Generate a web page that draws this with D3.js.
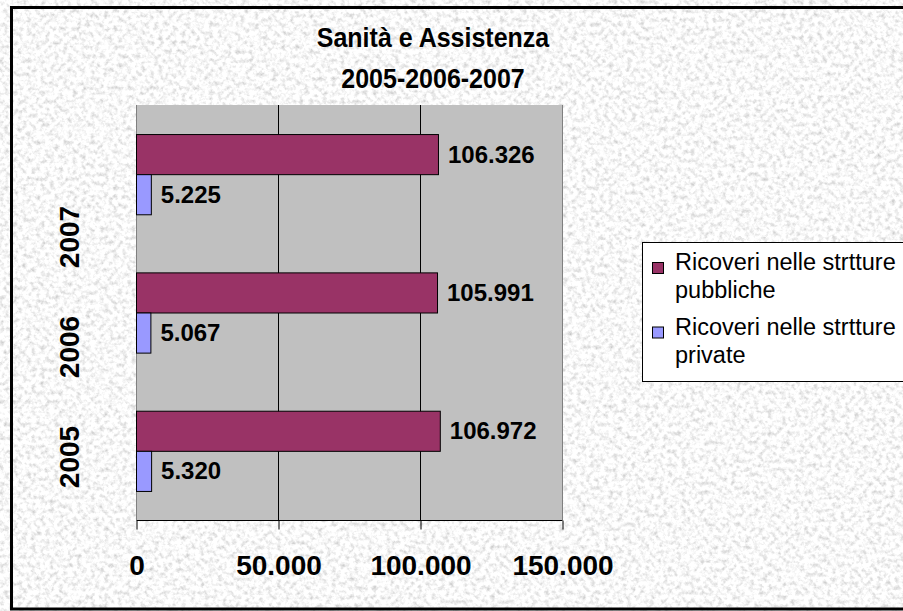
<!DOCTYPE html>
<html>
<head>
<meta charset="utf-8">
<script src="https://cdn.jsdelivr.net/npm/d3@7"></script>
<style>
  html, body { margin: 0; padding: 0; background: #ffffff; overflow: hidden; }
  svg { display: block; font-family: "Liberation Sans", Arial, Helvetica, sans-serif; }
</style>
</head>
<body>
<svg id="chart" width="903" height="611"></svg>
<script>
// ---- data ----
const years = ["2007", "2006", "2005"];
const seriesNames = ["Ricoveri nelle strtture pubbliche", "Ricoveri nelle strtture private"];
const legendLines = [["Ricoveri nelle strtture", "pubbliche"], ["Ricoveri nelle strtture", "private"]];
const pubbliche = [106326, 105991, 106972];
const private_ = [5225, 5067, 5320];
const tickValues = [0, 50000, 100000, 150000];
const titleLines = ["Sanità e Assistenza", "2005-2006-2007"];
const colors = ["#993366", "#9999FF"];

const svg = d3.select("#chart");
const W = 903, H = 611;

// textured background
const defs = svg.append("defs");
const f = defs.append("filter").attr("id", "granite")
  .attr("filterUnits", "userSpaceOnUse")
  .attr("x", 0).attr("y", 0).attr("width", 1000).attr("height", 700);
f.append("feTurbulence").attr("type", "fractalNoise").attr("baseFrequency", "0.22")
  .attr("numOctaves", 3).attr("seed", 7).attr("result", "n");
f.append("feColorMatrix").attr("type", "matrix")
  .attr("values", "0.85 0 0 0 0.52  0.85 0 0 0 0.52  0.85 0 0 0 0.52  0 0 0 0 1");

svg.append("rect").attr("x", 0).attr("y", 0).attr("width", W).attr("height", H).attr("fill", "#fff");
svg.append("rect").attr("x", 10).attr("y", 6).attr("width", 990).attr("height", 605)
  .attr("fill", "#e6e6e6").attr("filter", "url(#granite)");
svg.append("rect").attr("x", 11.5).attr("y", 7.5).attr("width", 990).attr("height", 601.5)
  .attr("fill", "none").attr("stroke", "#000").attr("stroke-width", 3);

// title (slightly tall glyphs as in the reference)
const title = svg.append("text").attr("text-anchor", "middle").attr("font-weight", "bold")
  .attr("font-size", 25).attr("fill", "#000")
  .attr("transform", "translate(433,0) scale(1,1.14)");
title.selectAll("tspan").data(titleLines).join("tspan")
  .attr("x", 0).attr("y", (d, i) => (47 + i * 41) / 1.14).text(d => d);

// plot area
const plot = { left: 136, right: 562, top: 105, bottom: 520 };
const x = d3.scaleLinear().domain([0, 150000]).range([plot.left, plot.right]);
const y = d3.scaleBand().domain(years).range([plot.top, plot.bottom])
  .paddingInner(0.42).paddingOuter(0.21);
const ySub = d3.scaleBand().domain([0, 1]).range([0, y.bandwidth()]);

svg.append("rect").attr("x", plot.left).attr("y", plot.top)
  .attr("width", plot.right - plot.left).attr("height", plot.bottom - plot.top)
  .attr("fill", "#c0c0c0");

// gridlines
svg.append("g").selectAll("line").data(tickValues.slice(1, -1)).join("line")
  .attr("x1", d => x(d) + 0.5).attr("x2", d => x(d) + 0.5)
  .attr("y1", plot.top).attr("y2", plot.bottom)
  .attr("stroke", "#000").attr("stroke-width", 1);
// plot border sides (gray)
svg.append("line").attr("x1", plot.left + 0.5).attr("x2", plot.left + 0.5)
  .attr("y1", plot.top).attr("y2", plot.bottom).attr("stroke", "#808080");
svg.append("line").attr("x1", plot.right + 0.5).attr("x2", plot.right + 0.5)
  .attr("y1", plot.top).attr("y2", plot.bottom).attr("stroke", "#808080");

// bottom axis
const xAxis = d3.axisBottom(x).tickValues(tickValues).tickSizeInner(9).tickSizeOuter(0)
  .tickPadding(26).tickFormat(d => d3.format(",")(d).replace(/,/g, "."));
const gx = svg.append("g").attr("transform", `translate(0.5,${plot.bottom + 0.5})`).call(xAxis);
gx.select(".domain").attr("stroke", "#000").attr("d", `M${plot.left},0H${plot.right}`);
gx.selectAll(".tick line").attr("stroke", "#000");
gx.selectAll(".tick text").attr("font-size", 28).attr("font-weight", "bold")
  .attr("fill", "#000").attr("font-family", "\"Liberation Sans\", Arial, sans-serif");

// bars
const seriesData = [pubbliche, private_];
const bars = svg.append("g");
seriesData.forEach((vals, s) => {
  bars.selectAll(null).data(vals).join("rect")
    .attr("x", x(0) + 0.5)
    .attr("y", (d, i) => y(years[i]) + ySub(s) + 0.5)
    .attr("width", d => x(d) - x(0))
    .attr("height", ySub.bandwidth())
    .attr("fill", colors[s]).attr("stroke", "#000").attr("stroke-width", 1);
  bars.selectAll(null).data(vals).join("text")
    .attr("x", d => x(d) + 10)
    .attr("y", (d, i) => y(years[i]) + ySub(s) + ySub.bandwidth() / 2)
    .attr("dy", "0.35em")
    .attr("font-size", 24).attr("font-weight", "bold").attr("fill", "#000")
    .text(d => d3.format(",")(d).replace(/,/g, "."));
});

// year labels (rotated)
const yLab = d3.scalePoint().domain(years).range([237, 457]);
svg.append("g").selectAll("text").data(years).join("text")
  .attr("transform", d => `translate(79,${yLab(d)}) rotate(-90)`)
  .attr("text-anchor", "middle")
  .attr("font-size", 28).attr("font-weight", "bold").attr("fill", "#000")
  .text(d => d);

// legend
const lg = svg.append("g");
lg.append("rect").attr("x", 642.5).attr("y", 242.5).attr("width", 300).attr("height", 139)
  .attr("fill", "#fff").attr("stroke", "#000").attr("stroke-width", 1);
legendLines.forEach((lines, i) => {
  const top = 262 + i * 64.5;
  lg.append("rect").attr("x", 652.5).attr("y", top + 0.5).attr("width", 11).attr("height", 11)
    .attr("fill", colors[i]).attr("stroke", "#000").attr("stroke-width", 1);
  const t = lg.append("text").attr("font-size", 23.5).attr("fill", "#000");
  t.selectAll("tspan").data(lines).join("tspan")
    .attr("x", 675).attr("y", (d, j) => top + 8 + j * 28).text(d => d);
});
</script>
</body>
</html>
